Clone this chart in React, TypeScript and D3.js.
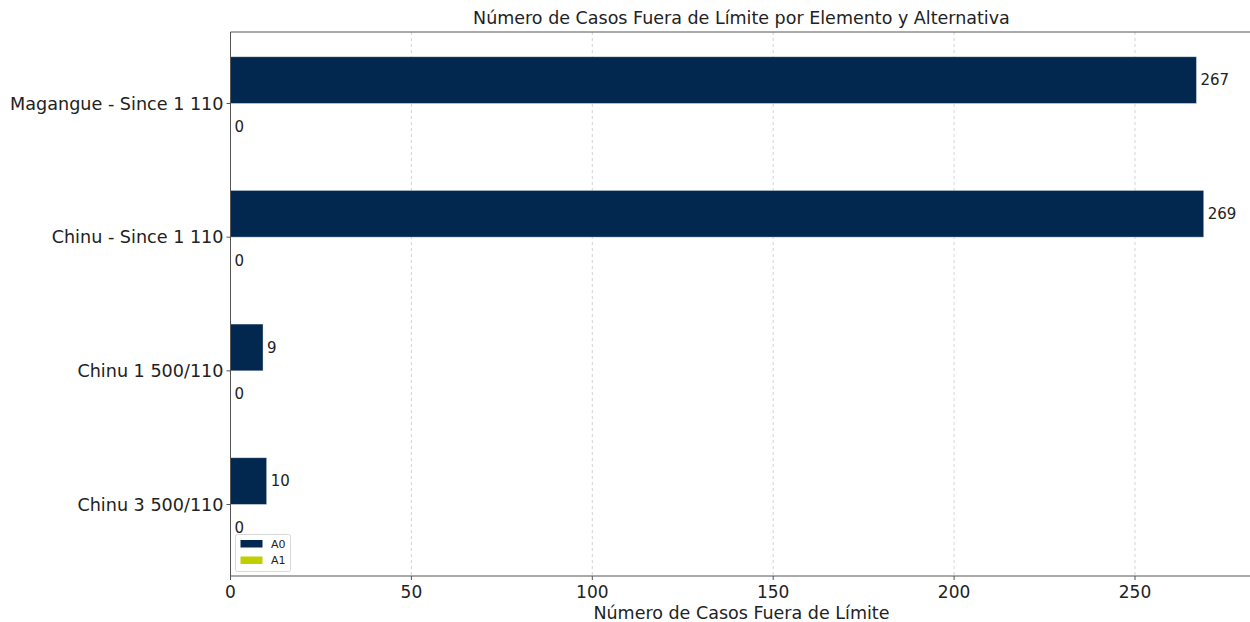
import React from "react";
import * as d3 from "d3";

const categories = ["Magangue - Since 1 110", "Chinu - Since 1 110", "Chinu 1 500/110", "Chinu 3 500/110"];
const seriesNames = ["A0", "A1"];
const valuesA0 = [267, 269, 9, 10];
const valuesA1 = [0, 0, 0, 0];
const xTicks = [0, 50, 100, 150, 200, 250];
const colors = ["#03284f", "#c0cf00"];

const W = 1250, H = 622;
const left = 230.5, top = 32, bottom = 576;
const pxPerUnit = 3.618;
const xMax = 282.45;

export default function App() {
  const x = d3.scaleLinear().domain([0, xMax]).range([left, left + xMax * pxPerUnit]);
  const n = categories.length;
  const y = d3.scaleLinear().domain([-0.535, n - 1 + 0.535]).range([bottom, top]);
  const barH = 0.35;
  const series = [valuesA0, valuesA1];
  const font = "DejaVu Sans, sans-serif";
  const right = x(xMax);
  const cx = (left + right) / 2;
  return (
    <svg width={W} height={H} style={{ position: "absolute", left: 0, top: 0 }} fontFamily={font}>
      <rect width={W} height={H} fill="#fff" />
      {xTicks.map((t) => (
        <line key={"g" + t} x1={x(t)} x2={x(t)} y1={top} y2={bottom} stroke="#b0b0b0" strokeOpacity={0.7} strokeWidth={0.8} strokeDasharray="3,3" />
      ))}
      {categories.map((c, i) => {
        const yc = n - 1 - i;
        return series.map((vals, s) => {
          const off = s === 0 ? barH / 2 : -barH / 2;
          const y0 = y(yc + off + barH / 2);
          const y1 = y(yc + off - barH / 2);
          const v = vals[i];
          return (
            <g key={c + s}>
              <rect x={x(0)} y={y0} width={x(v) - x(0)} height={y1 - y0} fill={colors[s]} stroke="#ffffff" strokeOpacity={0.5} strokeWidth={0.8} />
              <text x={x(v) + 4} y={(y0 + y1) / 2} dy="0.35em" fontSize={15} fill="#222">{v}</text>
            </g>
          );
        });
      })}
      <line x1={left} x2={left} y1={top} y2={bottom} stroke="#555" strokeWidth={1} />
      <line x1={left} x2={right} y1={bottom} y2={bottom} stroke="#555" strokeWidth={1} />
      <line x1={left} x2={right} y1={top} y2={top} stroke="#555" strokeWidth={1} />
      <line x1={right} x2={right} y1={top} y2={bottom} stroke="#555" strokeWidth={1} />
      {xTicks.map((t) => (
        <g key={"t" + t}>
          <line x1={x(t)} x2={x(t)} y1={bottom} y2={bottom + 4} stroke="#555" />
          <text x={x(t)} y={bottom + 22} textAnchor="middle" fontSize={17} fill="#222">{t}</text>
        </g>
      ))}
      {categories.map((c, i) => {
        const yy = y(n - 1 - i);
        return (
          <g key={"y" + c}>
            <line x1={left - 4} x2={left} y1={yy} y2={yy} stroke="#555" />
            <text x={left - 7} y={yy} dy="0.35em" textAnchor="end" fontSize={17.6} fill="#222">{c}</text>
          </g>
        );
      })}
      <text x={cx} y={top - 8} textAnchor="middle" fontSize={17.5} fill="#222">Número de Casos Fuera de Límite por Elemento y Alternativa</text>
      <text x={cx} y={619} textAnchor="middle" fontSize={17.5} fill="#222">Número de Casos Fuera de Límite</text>
      <g>
        <rect x={235.5} y={534.5} width={55} height={37} rx={2} fill="#fff" fillOpacity={0.8} stroke="#d8d8d8" />
        {seriesNames.map((s, i) => (
          <g key={s}>
            <rect x={240.5} y={540 + i * 16.5} width={22} height={7.5} fill={colors[i]} />
            <text x={271} y={544 + i * 16.5} dy="0.35em" fontSize={11} fill="#222">{s}</text>
          </g>
        ))}
      </g>
    </svg>
  );
}
